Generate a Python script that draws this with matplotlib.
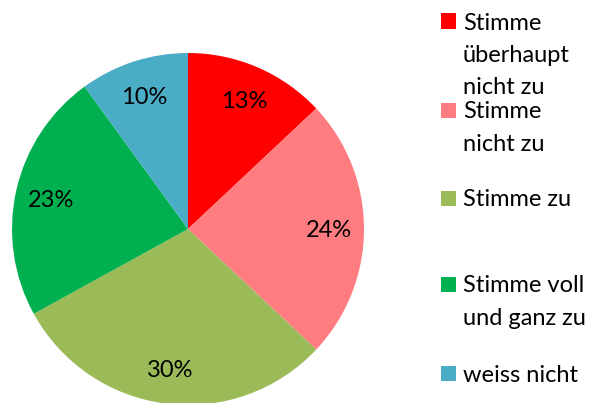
import matplotlib
matplotlib.use("Agg")
from matplotlib import pyplot as plt
from matplotlib.patches import Rectangle

categories = [
    "Stimme\nüberhaupt\nnicht zu",
    "Stimme\nnicht zu",
    "Stimme zu",
    "Stimme voll\nund ganz zu",
    "weiss nicht",
]
shares = [13, 24, 30, 23, 10]
colors = ["#FF0000", "#FF7C80", "#9BBB59", "#00B050", "#4BACC6"]

# legend layout (pixel rows from the top: marker centre, first text line)
legend_rows = [21, 110, 198, 284, 373]

W, H = 592, 403
plt.rcParams["font.family"] = ["Lato", "DejaVu Sans"]

fig = plt.figure(figsize=(W / 100, H / 100), dpi=100, facecolor="w")

cx, cy, r = 188, 229, 176
ax = fig.add_axes([(cx - r) / W, (H - cy - r) / H, 2 * r / W, 2 * r / H])
wedges, texts, autotexts = ax.pie(
    shares,
    colors=colors,
    startangle=90,
    counterclock=False,
    autopct="%d%%",
    pctdistance=0.8,
    textprops={"fontsize": 17, "color": "black"},
    wedgeprops={"linewidth": 0},
)
for t in autotexts:
    t.set_va("center_baseline")
ax.set_xlim(-1, 1)
ax.set_ylim(-1, 1)
ax.axis("off")

line_h = 32.5
for label, color, y in zip(categories, colors, legend_rows):
    fig.patches.append(
        Rectangle((441 / W, (H - y - 7.5) / H), 15 / W, 15 / H,
                  transform=fig.transFigure, facecolor=color, edgecolor="none")
    )
    for i, line in enumerate(label.split("\n")):
        fig.text(463 / W, (H - y - i * line_h) / H, line, fontsize=17,
                 va="center_baseline", ha="left", color="black")

plt.savefig("out.png", dpi=100)
